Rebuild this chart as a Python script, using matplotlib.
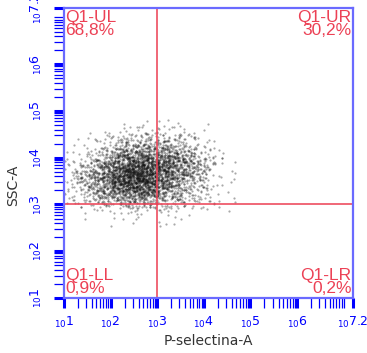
import numpy as np
import matplotlib.pyplot as plt
from matplotlib.ticker import FixedLocator, NullFormatter

# log10 bin centres (0.25 decade wide) for the event cloud
x_bin_log = [1.125, 1.375, 1.625, 1.875, 2.125, 2.375, 2.625, 2.875,
             3.125, 3.375, 3.625, 3.875, 4.125, 4.375, 4.625]
y_bin_log = [4.625, 4.375, 4.125, 3.875, 3.625, 3.375, 3.125, 2.875, 2.625]
bin_width = 0.25

# estimated number of events per bin (rows follow y_bin_log, cols x_bin_log)
counts = [
    [0, 0, 0, 1, 2, 3, 4, 5, 5, 5, 4, 2, 1, 0, 0],
    [0, 1, 3, 6, 12, 18, 20, 20, 18, 15, 10, 5, 2, 0, 0],
    [1, 3, 8, 18, 35, 55, 62, 60, 55, 48, 30, 16, 7, 2, 0],
    [5, 12, 25, 45, 75, 110, 120, 110, 100, 85, 60, 32, 15, 5, 1],
    [11, 23, 46, 78, 122, 160, 169, 145, 88, 74, 43, 27, 9, 3, 2],
    [8, 20, 38, 60, 90, 120, 130, 110, 75, 45, 30, 15, 7, 2, 0],
    [4, 10, 18, 28, 40, 50, 50, 45, 35, 25, 20, 12, 8, 3, 2],
    [1, 1, 2, 3, 3, 3, 4, 4, 3, 2, 2, 1, 1, 0, 0],
    [0, 0, 0, 1, 1, 1, 1, 1, 1, 1, 1, 0, 0, 0, 0],
]

gate = 1e3
quad_names = ['Q1-UL', 'Q1-UR', 'Q1-LL', 'Q1-LR']
quad_pct = ['68,8%', '30,2%', '0,9%', '0,2%']
decades = [1, 2, 3, 4, 5, 6, 7]
labelled = ['1', '2', '3', '4', '5', '6', '7.2']
axis_max_log = 7.2

BLUE = '#0000ff'
SPINE = '#6a6aff'
RED = '#ec4155'


def halton(i, base):
    f, r = 1.0, 0.0
    while i > 0:
        f /= base
        r += f * (i % base)
        i //= base
    return r


def spread_events(counts):
    # lay each bin's events out around the bin centre with a fixed Halton pattern
    xs, ys = [], []
    g = 0
    for r, row in enumerate(counts):
        for c, n in enumerate(row):
            for k in range(n):
                g += 1
                dx = halton(g, 2) + halton(g, 5) + halton(g, 11) - 1.5
                dy = halton(g, 3) + halton(g, 7) + halton(g, 13) - 1.5
                xs.append(x_bin_log[c] + dx * bin_width)
                ys.append(y_bin_log[r] + dy * bin_width)
    return 10 ** np.array(xs), 10 ** np.array(ys)


def exp_label(d):
    return r'$_{10}\mathit{%s}$' % d


fig = plt.figure(figsize=(3.67, 3.53), dpi=100)
ax = fig.add_axes([0.174, 0.156, 0.788, 0.821])

ev_x, ev_y = spread_events(counts)
ax.scatter(ev_x, ev_y, s=2.5, c='#111111', alpha=0.36, linewidths=0, marker='o')

ax.axvline(gate, color=RED, lw=1.4, alpha=0.8)
ax.axhline(gate, color=RED, lw=1.4, alpha=0.8)

ax.set_xscale('log')
ax.set_yscale('log')
ax.set_xlim(10 ** 1, 10 ** axis_max_log)
ax.set_ylim(10 ** 1, 10 ** axis_max_log)

minor = [m * 10.0 ** d for d in decades for m in range(2, 10)]
minor += [10.0 ** 7]
major = [10.0 ** d for d in decades[:-1]] + [10 ** axis_max_log]
for axis in (ax.xaxis, ax.yaxis):
    axis.set_major_locator(FixedLocator(major))
    axis.set_minor_locator(FixedLocator(minor))
    axis.set_minor_formatter(NullFormatter())
ax.set_xticklabels([exp_label(d) for d in labelled])
ax.set_yticklabels([exp_label(d) for d in labelled], rotation=90, va='center')

ax.tick_params(which='major', direction='out', length=7, width=2.2,
               color=BLUE, labelcolor=BLUE, labelsize=9)
ax.tick_params(axis='x', which='major', pad=5)
ax.tick_params(axis='y', which='major', pad=7)
ax.tick_params(which='minor', direction='out', length=7, width=0.9, color=BLUE)
for sp in ax.spines.values():
    sp.set_color(SPINE)
    sp.set_linewidth(1.6)

ax.set_xlabel('P-selectina-A', color='#333333', fontsize=10, labelpad=3)
ax.set_ylabel('SSC-A', color='#333333', fontsize=10)
ax.yaxis.set_label_coords(-0.15, 0.39)

tk = dict(transform=ax.transAxes, color=RED, fontsize=12.5,
          family='Liberation Sans', linespacing=0.85)
ax.text(0.005, 0.995, quad_names[0] + '\n' + quad_pct[0], ha='left', va='top', **tk)
ax.text(0.995, 0.995, quad_names[1] + '\n' + quad_pct[1], ha='right', va='top', **tk)
ax.text(0.005, 0.005, quad_names[2] + '\n' + quad_pct[2], ha='left', va='bottom', **tk)
ax.text(0.995, 0.005, quad_names[3] + '\n' + quad_pct[3], ha='right', va='bottom', **tk)

fig.savefig('out.png', dpi=100)
